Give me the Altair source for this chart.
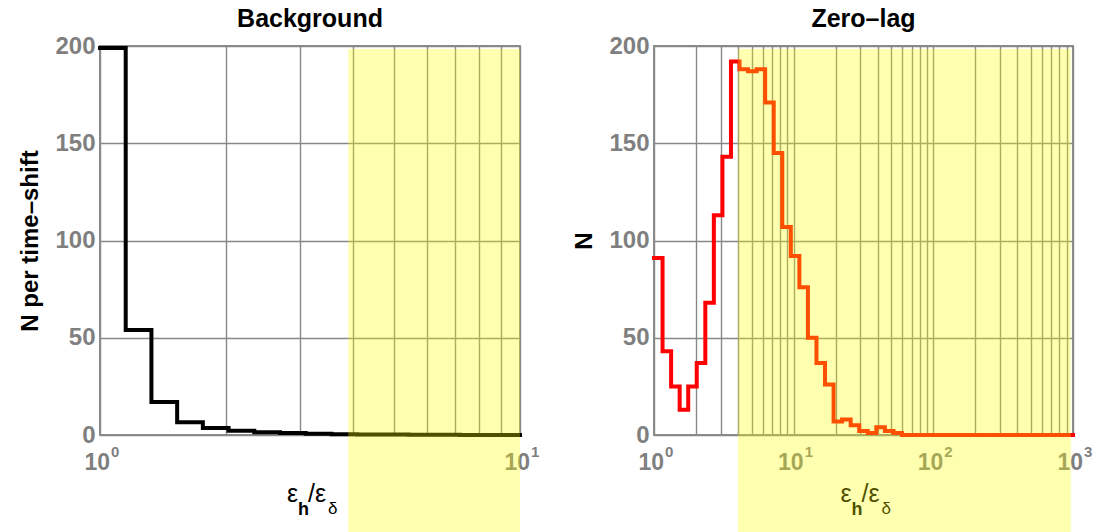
import numpy as np
import pandas as pd
import altair as alt

# Histogram bins are equally spaced in log10: 49 bins cover 10^0 .. 10^3
BIN_DEX = 3 / 49

# Background: mean number of triggers per time-shift in each bin (from 10^0 up to 10^1)
background_counts = [199, 54, 17, 6.5, 3.6, 2.2, 1.4, 1.0, 0.6, 0.4,
                     0.3, 0.2, 0.1, 0.1, 0.05, 0.05, 0.0]

# Zero-lag: number of triggers in each bin (from 10^0 up to 10^3)
zerolag_counts = [91, 43, 25, 13, 25, 37, 68, 113, 143, 192,
                  188, 187, 188, 171, 145, 107, 92, 76, 50, 37,
                  26, 7, 8, 5, 2, 1, 4, 2, 1, 0,
                  0, 0, 0, 0, 0, 0, 0, 0, 0, 0,
                  0, 0, 0, 0, 0, 0, 0, 0, 0]

# Grid positions (1-2-...-9 per decade) and decade tick labels
background_grid = [1, 2, 3, 4, 5, 6, 7, 8, 9, 10]
zerolag_grid = [1, 2, 3, 4, 5, 6, 7, 8, 9, 10,
                20, 30, 40, 50, 60, 70, 80, 90, 100,
                200, 300, 400, 500, 600, 700, 800, 900, 1000]
background_decades = [1, 10]
background_exponents = ["0", "1"]
zerolag_decades = [1, 10, 100, 1000]
zerolag_exponents = ["0", "1", "2", "3"]

# Highlighted ratio ranges [start, end]
background_band = [3.9, 10]
zerolag_band = [4.0, 965]
BAND_TOP = 198.5

GREY = "#7f7f7f"
FONT = "Liberation Sans"


def step_frame(counts, xmax):
    edges = 10 ** (BIN_DEX * np.arange(len(counts)))
    xs = list(edges) + [xmax]
    ns = list(counts) + [counts[-1]]
    return pd.DataFrame({"x": xs, "n": ns})


def panel(title, ytitle, counts, xmax, grid_vals, decades, exps, band, color, W, H):
    x_enc = alt.X(
        "x:Q",
        scale=alt.Scale(type="log", domain=[1, xmax], nice=False),
        axis=alt.Axis(values=grid_vals, labels=False, ticks=False, domain=False,
                      grid=True, title=None),
    )
    y_enc = alt.Y(
        "n:Q",
        scale=alt.Scale(domain=[0, 200], nice=False),
        axis=alt.Axis(values=[0, 50, 100, 150, 200], ticks=False, domain=False,
                      grid=True, title=ytitle, titlePadding=12,
                      labelFontSize=24),
    )

    line = alt.Chart(step_frame(counts, xmax)).mark_line(
        interpolate="step-after", color=color, strokeWidth=4, strokeJoin="miter",
        strokeCap="square",
    ).encode(x=x_enc, y=y_enc)

    dec_df = pd.DataFrame({"x": decades, "base": ["10"] * len(decades), "exp": exps})
    tens = alt.Chart(dec_df).mark_text(
        align="right", baseline="alphabetic", dx=10, fontSize=23, fontWeight="bold",
        font=FONT, color=GREY,
    ).encode(x=x_enc, y=alt.value(H + 35), text="base:N")
    sups = alt.Chart(dec_df).mark_text(
        align="left", baseline="alphabetic", dx=11, fontSize=15, fontWeight="bold",
        font=FONT, color=GREY,
    ).encode(x=x_enc, y=alt.value(H + 22), text="exp:N")

    # x-axis title: eps_h / eps_delta with subscripts
    cx = W / 2
    pieces = [
        ("ε", -23, 0, 25, "normal"),
        ("h", -12, 13, 18, "bold"),
        ("/ε", -2, 0, 25, "normal"),
        ("δ", 18, 12, 17, "normal"),
    ]
    xtitle = []
    for txt, dx, dy, fs, fw in pieces:
        xtitle.append(
            alt.Chart(pd.DataFrame({"t": [txt]})).mark_text(
                align="left", baseline="alphabetic", dx=dx, fontSize=fs,
                fontWeight=fw, font=FONT, color="black",
            ).encode(x=alt.value(cx), y=alt.value(H + 67 + dy), text="t:N")
        )

    band_df = pd.DataFrame({"x": [band[0]], "x2": [band[1]], "n": [BAND_TOP]})
    shade = alt.Chart(band_df).mark_rect(
        color="#ffff00", opacity=0.31, clip=False
    ).encode(x=x_enc, x2="x2:Q", y=y_enc, y2=alt.value(H + 100))

    return alt.layer(line, tens, sups, *xtitle, shade).properties(
        width=W, height=H,
        title=alt.TitleParams(title, fontSize=25, fontWeight="bold", font=FONT,
                              color="black", offset=2.5, frame="group",
                              anchor="middle"),
    )


left = panel("Background", "N per time–shift", background_counts, 10,
             background_grid, background_decades, background_exponents,
             background_band, "#000000", 420, 389)
right = panel("Zero–lag", "N", zerolag_counts, 1000,
              zerolag_grid, zerolag_decades, zerolag_exponents,
              zerolag_band, "#ff0000", 419, 389)

chart = alt.hconcat(left, right, spacing=30).properties(
    padding={"left": 17, "top": 5, "right": 0, "bottom": 0},
    background="white",
).configure_view(
    stroke="#8c8c8c", strokeWidth=2,
).configure_axis(
    labelFont=FONT, labelFontSize=24, labelFontWeight="bold", labelColor=GREY,
    labelPadding=5, gridColor="#888888", gridWidth=1.4, gridOpacity=1,
    titleFont=FONT, titleFontSize=24, titleFontWeight="bold", titleColor="black",
)

chart.save("out.html", embed_options={"renderer": "svg", "actions": False})
